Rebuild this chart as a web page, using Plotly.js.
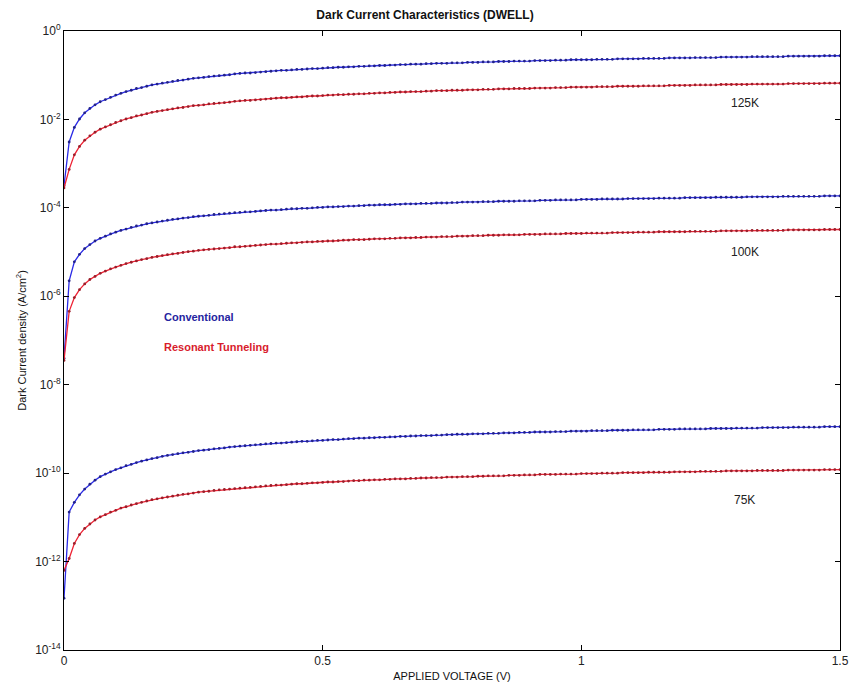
<!DOCTYPE html>
<html><head><meta charset="utf-8">
<script src="https://cdn.plot.ly/plotly-3.0.1.min.js"></script>
<style>html,body{margin:0;padding:0;background:#fff}</style>
</head><body><div id="chart" style="width:850px;height:690px"></div>
<script>
// Applied voltage (V)
const voltage = [
0,0.01,0.02,0.03,0.04,0.05,0.06,0.07,0.08,0.09,
0.10,0.11,0.12,0.13,0.14,0.15,0.16,0.17,0.18,0.19,
0.20,0.21,0.22,0.23,0.24,0.25,0.26,0.27,0.28,0.29,
0.30,0.31,0.32,0.33,0.34,0.35,0.36,0.37,0.38,0.39,
0.40,0.41,0.42,0.43,0.44,0.45,0.46,0.47,0.48,0.49,
0.50,0.51,0.52,0.53,0.54,0.55,0.56,0.57,0.58,0.59,
0.60,0.61,0.62,0.63,0.64,0.65,0.66,0.67,0.68,0.69,
0.70,0.71,0.72,0.73,0.74,0.75,0.76,0.77,0.78,0.79,
0.80,0.81,0.82,0.83,0.84,0.85,0.86,0.87,0.88,0.89,
0.90,0.91,0.92,0.93,0.94,0.95,0.96,0.97,0.98,0.99,
1.00,1.01,1.02,1.03,1.04,1.05,1.06,1.07,1.08,1.09,
1.10,1.11,1.12,1.13,1.14,1.15,1.16,1.17,1.18,1.19,
1.20,1.21,1.22,1.23,1.24,1.25,1.26,1.27,1.28,1.29,
1.30,1.31,1.32,1.33,1.34,1.35,1.36,1.37,1.38,1.39,
1.40,1.41,1.42,1.43,1.44,1.45,1.46,1.47,1.48,1.49,
1.50];

// Dark current density, stored as log10(A/cm^2)
const conv125K = [
-3.50,-2.51,-2.18,-1.99,-1.85,-1.75,-1.67,-1.60,-1.55,-1.50,
-1.45,-1.41,-1.37,-1.34,-1.30,-1.28,-1.25,-1.22,-1.20,-1.18,
-1.16,-1.14,-1.12,-1.11,-1.09,-1.07,-1.06,-1.05,-1.03,-1.02,
-1.01,-1.00,-0.99,-0.97,-0.96,-0.95,-0.95,-0.94,-0.93,-0.92,
-0.91,-0.90,-0.89,-0.89,-0.88,-0.87,-0.87,-0.86,-0.85,-0.85,
-0.84,-0.83,-0.83,-0.82,-0.82,-0.81,-0.81,-0.80,-0.80,-0.79,
-0.79,-0.78,-0.78,-0.77,-0.77,-0.76,-0.76,-0.75,-0.75,-0.75,
-0.74,-0.74,-0.73,-0.73,-0.73,-0.72,-0.72,-0.72,-0.71,-0.71,
-0.71,-0.70,-0.70,-0.70,-0.69,-0.69,-0.69,-0.68,-0.68,-0.68,
-0.68,-0.67,-0.67,-0.67,-0.67,-0.66,-0.66,-0.66,-0.65,-0.65,
-0.65,-0.65,-0.65,-0.64,-0.64,-0.64,-0.64,-0.63,-0.63,-0.63,
-0.63,-0.63,-0.62,-0.62,-0.62,-0.62,-0.62,-0.61,-0.61,-0.61,
-0.61,-0.61,-0.60,-0.60,-0.60,-0.60,-0.60,-0.59,-0.59,-0.59,
-0.59,-0.59,-0.59,-0.58,-0.58,-0.58,-0.58,-0.58,-0.58,-0.58,
-0.57,-0.57,-0.57,-0.57,-0.57,-0.57,-0.57,-0.56,-0.56,-0.56,
-0.56];
const rt125K = [
-3.55,-3.13,-2.80,-2.61,-2.47,-2.37,-2.29,-2.22,-2.17,-2.12,
-2.07,-2.03,-1.99,-1.96,-1.92,-1.90,-1.87,-1.84,-1.82,-1.80,
-1.78,-1.76,-1.74,-1.73,-1.71,-1.69,-1.68,-1.67,-1.65,-1.64,
-1.63,-1.62,-1.61,-1.59,-1.58,-1.57,-1.57,-1.56,-1.55,-1.54,
-1.53,-1.52,-1.51,-1.51,-1.50,-1.49,-1.49,-1.48,-1.47,-1.47,
-1.46,-1.45,-1.45,-1.44,-1.44,-1.43,-1.43,-1.42,-1.42,-1.41,
-1.41,-1.40,-1.40,-1.39,-1.39,-1.38,-1.38,-1.37,-1.37,-1.37,
-1.36,-1.36,-1.35,-1.35,-1.35,-1.34,-1.34,-1.34,-1.33,-1.33,
-1.33,-1.32,-1.32,-1.32,-1.31,-1.31,-1.31,-1.30,-1.30,-1.30,
-1.30,-1.29,-1.29,-1.29,-1.29,-1.28,-1.28,-1.28,-1.27,-1.27,
-1.27,-1.27,-1.27,-1.26,-1.26,-1.26,-1.26,-1.25,-1.25,-1.25,
-1.25,-1.25,-1.24,-1.24,-1.24,-1.24,-1.24,-1.23,-1.23,-1.23,
-1.23,-1.23,-1.22,-1.22,-1.22,-1.22,-1.22,-1.21,-1.21,-1.21,
-1.21,-1.21,-1.21,-1.20,-1.20,-1.20,-1.20,-1.20,-1.20,-1.20,
-1.19,-1.19,-1.19,-1.19,-1.19,-1.19,-1.19,-1.18,-1.18,-1.18,
-1.18];
const conv100K = [
-7.40,-5.65,-5.22,-5.05,-4.92,-4.83,-4.75,-4.69,-4.64,-4.59,
-4.55,-4.51,-4.48,-4.44,-4.41,-4.39,-4.36,-4.34,-4.32,-4.30,
-4.28,-4.26,-4.25,-4.23,-4.22,-4.20,-4.19,-4.18,-4.17,-4.15,
-4.14,-4.13,-4.12,-4.11,-4.10,-4.09,-4.09,-4.08,-4.07,-4.06,
-4.05,-4.05,-4.04,-4.03,-4.02,-4.02,-4.01,-4.01,-4.00,-3.99,
-3.99,-3.98,-3.98,-3.97,-3.97,-3.96,-3.96,-3.95,-3.95,-3.94,
-3.94,-3.93,-3.93,-3.93,-3.92,-3.92,-3.91,-3.91,-3.91,-3.90,
-3.90,-3.90,-3.89,-3.89,-3.89,-3.88,-3.88,-3.87,-3.87,-3.87,
-3.87,-3.86,-3.86,-3.86,-3.85,-3.85,-3.85,-3.85,-3.84,-3.84,
-3.84,-3.84,-3.83,-3.83,-3.83,-3.82,-3.82,-3.82,-3.82,-3.82,
-3.81,-3.81,-3.81,-3.81,-3.80,-3.80,-3.80,-3.80,-3.80,-3.79,
-3.79,-3.79,-3.79,-3.79,-3.79,-3.78,-3.78,-3.78,-3.78,-3.78,
-3.77,-3.77,-3.77,-3.77,-3.77,-3.77,-3.76,-3.76,-3.76,-3.76,
-3.76,-3.76,-3.75,-3.75,-3.75,-3.75,-3.75,-3.75,-3.75,-3.74,
-3.74,-3.74,-3.74,-3.74,-3.74,-3.74,-3.74,-3.73,-3.73,-3.73,
-3.73];
const rt100K = [
-7.45,-6.34,-6.03,-5.85,-5.72,-5.62,-5.55,-5.48,-5.43,-5.38,
-5.34,-5.30,-5.26,-5.23,-5.20,-5.17,-5.15,-5.12,-5.10,-5.08,
-5.06,-5.04,-5.03,-5.01,-4.99,-4.98,-4.96,-4.95,-4.94,-4.93,
-4.92,-4.91,-4.90,-4.88,-4.88,-4.87,-4.86,-4.85,-4.84,-4.83,
-4.82,-4.82,-4.81,-4.80,-4.79,-4.79,-4.78,-4.77,-4.77,-4.76,
-4.76,-4.75,-4.75,-4.74,-4.73,-4.73,-4.72,-4.72,-4.72,-4.71,
-4.70,-4.70,-4.70,-4.69,-4.69,-4.68,-4.68,-4.68,-4.67,-4.67,
-4.66,-4.66,-4.66,-4.65,-4.65,-4.65,-4.64,-4.64,-4.64,-4.63,
-4.63,-4.63,-4.62,-4.62,-4.62,-4.61,-4.61,-4.61,-4.61,-4.60,
-4.60,-4.60,-4.60,-4.59,-4.59,-4.59,-4.59,-4.58,-4.58,-4.58,
-4.58,-4.57,-4.57,-4.57,-4.57,-4.57,-4.56,-4.56,-4.56,-4.56,
-4.56,-4.55,-4.55,-4.55,-4.55,-4.54,-4.54,-4.54,-4.54,-4.54,
-4.54,-4.53,-4.53,-4.53,-4.53,-4.53,-4.53,-4.52,-4.52,-4.52,
-4.52,-4.52,-4.52,-4.51,-4.51,-4.51,-4.51,-4.51,-4.51,-4.51,
-4.50,-4.50,-4.50,-4.50,-4.50,-4.50,-4.50,-4.49,-4.49,-4.49,
-4.49];
const conv75K = [
-12.83,-10.88,-10.66,-10.49,-10.36,-10.25,-10.16,-10.08,-10.02,-9.97,
-9.92,-9.88,-9.83,-9.80,-9.76,-9.73,-9.70,-9.67,-9.65,-9.62,
-9.60,-9.58,-9.56,-9.54,-9.53,-9.51,-9.49,-9.48,-9.47,-9.45,
-9.44,-9.43,-9.41,-9.40,-9.39,-9.38,-9.37,-9.36,-9.35,-9.34,
-9.33,-9.32,-9.32,-9.31,-9.30,-9.29,-9.28,-9.28,-9.27,-9.26,
-9.26,-9.25,-9.24,-9.24,-9.23,-9.22,-9.22,-9.21,-9.21,-9.20,
-9.20,-9.19,-9.19,-9.18,-9.18,-9.17,-9.17,-9.16,-9.16,-9.15,
-9.15,-9.15,-9.14,-9.14,-9.13,-9.13,-9.12,-9.12,-9.12,-9.11,
-9.11,-9.11,-9.10,-9.10,-9.10,-9.09,-9.09,-9.09,-9.08,-9.08,
-9.08,-9.07,-9.07,-9.07,-9.07,-9.06,-9.06,-9.06,-9.05,-9.05,
-9.05,-9.05,-9.04,-9.04,-9.04,-9.04,-9.03,-9.03,-9.03,-9.03,
-9.02,-9.02,-9.02,-9.02,-9.02,-9.01,-9.01,-9.01,-9.01,-9.00,
-9.00,-9.00,-9.00,-9.00,-9.00,-8.99,-8.99,-8.99,-8.99,-8.99,
-8.98,-8.98,-8.98,-8.98,-8.98,-8.97,-8.97,-8.97,-8.97,-8.97,
-8.97,-8.96,-8.96,-8.96,-8.96,-8.96,-8.96,-8.95,-8.95,-8.95,
-8.95];
const rt75K = [
-12.20,-11.93,-11.59,-11.39,-11.25,-11.15,-11.06,-10.99,-10.94,-10.88,
-10.84,-10.79,-10.76,-10.72,-10.69,-10.66,-10.63,-10.60,-10.58,-10.56,
-10.54,-10.52,-10.50,-10.48,-10.47,-10.45,-10.43,-10.42,-10.41,-10.39,
-10.38,-10.37,-10.36,-10.35,-10.34,-10.33,-10.32,-10.31,-10.30,-10.29,
-10.28,-10.27,-10.27,-10.26,-10.25,-10.24,-10.24,-10.23,-10.22,-10.22,
-10.21,-10.20,-10.20,-10.19,-10.19,-10.18,-10.17,-10.17,-10.16,-10.16,
-10.15,-10.15,-10.14,-10.14,-10.13,-10.13,-10.13,-10.12,-10.12,-10.11,
-10.11,-10.10,-10.10,-10.10,-10.09,-10.09,-10.09,-10.08,-10.08,-10.08,
-10.07,-10.07,-10.06,-10.06,-10.06,-10.06,-10.05,-10.05,-10.05,-10.04,
-10.04,-10.04,-10.03,-10.03,-10.03,-10.03,-10.02,-10.02,-10.02,-10.02,
-10.01,-10.01,-10.01,-10.01,-10.00,-10.00,-10.00,-10.00,-9.99,-9.99,
-9.99,-9.99,-9.99,-9.98,-9.98,-9.98,-9.98,-9.98,-9.97,-9.97,
-9.97,-9.97,-9.97,-9.96,-9.96,-9.96,-9.96,-9.96,-9.95,-9.95,
-9.95,-9.95,-9.95,-9.95,-9.94,-9.94,-9.94,-9.94,-9.94,-9.94,
-9.93,-9.93,-9.93,-9.93,-9.93,-9.93,-9.93,-9.92,-9.92,-9.92,
-9.92];

const yTickVals = [1, 1e-2, 1e-4, 1e-6, 1e-8, 1e-10, 1e-12, 1e-14];
const yTickText = ['10<sup>0</sup>','10<sup>-2</sup>','10<sup>-4</sup>','10<sup>-6</sup>','10<sup>-8</sup>','10<sup>-10</sup>','10<sup>-12</sup>','10<sup>-14</sup>'];
const xTickVals = [0, 0.5, 1, 1.5];
const xTickText = ['0', '0.5', '1', '1.5'];
const tempLabels = ['125K', '100K', '75K'];

const toVal = a => a.map(v => Math.pow(10, v));
const FONT = 'Liberation Sans, Arial, sans-serif';

function series(logs, kind) {
  const blue = kind === 'conv';
  return {
    x: voltage, y: toVal(logs), type: 'scatter', mode: 'lines+markers',
    line: {color: blue ? '#2a2ae6' : '#ee2234', width: 1.3},
    marker: {color: blue ? '#222288' : '#9a1e2a', size: 2.8},
    showlegend: false, hoverinfo: 'skip'
  };
}

const traces = [
  series(conv125K, 'conv'), series(rt125K, 'rt'),
  series(conv100K, 'conv'), series(rt100K, 'rt'),
  series(conv75K, 'conv'), series(rt75K, 'rt')
];

const axisCommon = {
  showline: true, linecolor: '#000', linewidth: 1, mirror: 'ticks',
  ticks: 'inside', ticklen: 5, tickcolor: '#000', showgrid: false, zeroline: false,
  tickfont: {family: FONT, size: 12, color: '#222'}
};

const layout = {
  width: 850, height: 690,
  margin: {l: 64, r: 10, t: 31, b: 40},
  paper_bgcolor: '#fff', plot_bgcolor: '#fff',
  font: {family: FONT, color: '#111'},
  title: {text: '<b>Dark Current Characteristics (DWELL)</b>', font: {family: FONT, size: 12, color: '#111'},
          x: 0.5, xanchor: 'center', y: 0.985, yanchor: 'top'},
  xaxis: Object.assign({}, axisCommon, {
    range: [0, 1.5], tickvals: xTickVals, ticktext: xTickText,
    title: {text: 'APPLIED VOLTAGE (V)', font: {family: FONT, size: 11, color: '#111'}, standoff: 4}
  }),
  yaxis: Object.assign({}, axisCommon, {
    type: 'log', range: [-14, 0], tickvals: yTickVals, ticktext: yTickText,
    title: {text: 'Dark Current density (A/cm<sup>2</sup>)', font: {family: FONT, size: 11, color: '#111'}, standoff: 6}
  }),
  annotations: [
    {x: 1.316, y: -1.63, text: tempLabels[0]},
    {x: 1.316, y: -5.0, text: tempLabels[1]},
    {x: 1.316, y: -10.61, text: tempLabels[2]},
  ].map(a => Object.assign(a, {xref: 'x', yref: 'y', showarrow: false,
      font: {family: FONT, size: 12, color: '#222'}})).concat([
    {x: 0.19, y: -6.47, xref: 'x', yref: 'y', xanchor: 'left', showarrow: false,
     text: '<b>Conventional</b>', font: {family: FONT, size: 11, color: '#2424a0'}},
    {x: 0.19, y: -7.15, xref: 'x', yref: 'y', xanchor: 'left', showarrow: false,
     text: '<b>Resonant Tunneling</b>', font: {family: FONT, size: 11, color: '#d81c2c'}}
  ])
};

Plotly.newPlot('chart', traces, layout, {staticPlot: true, displayModeBar: false});
</script>
</body></html>
